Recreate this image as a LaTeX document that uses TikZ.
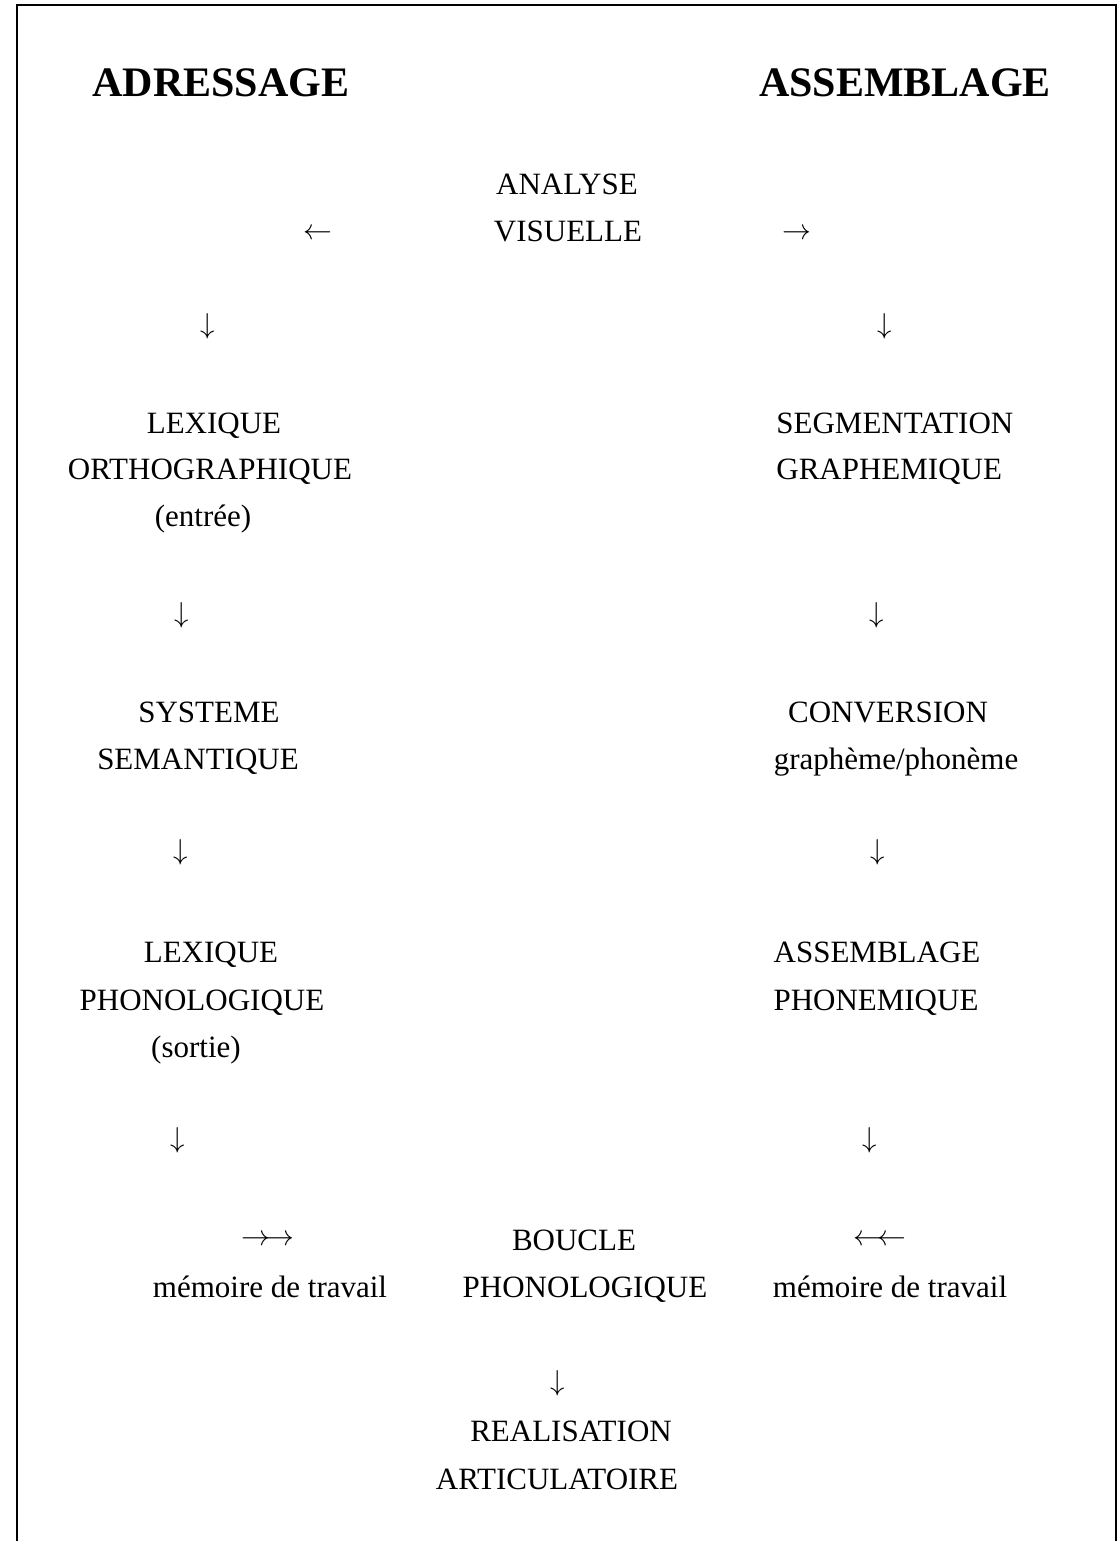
\documentclass[tikz,border=0pt]{standalone}
\usepackage{fontspec}
\setmainfont{Liberation Serif}
\begin{document}
\begin{tikzpicture}[x=0.5pt,y=-0.5pt,
  txt/.style={anchor=base, inner sep=0pt, font=\fontsize{15.5}{18}\selectfont},
  txtw/.style={anchor=base west, inner sep=0pt, font=\fontsize{15.5}{18}\selectfont},
  ttl/.style={anchor=base, inner sep=0pt, font=\fontsize{21}{24}\selectfont\bfseries},
  arw/.style={anchor=center, inner sep=0pt, font=\fontsize{15.5}{18}\selectfont},
  frame/.style={line width=0.8pt}]
\useasboundingbox (0,0) rectangle (1118,1541);
\draw[frame] (17,1541) -- (17,5) -- (1116,5) -- (1116,1541);
% titles
\node[ttl] (ttlA) at (221,97) {ADRESSAGE};
\node[ttl] (ttlB) at (905,97) {ASSEMBLAGE};
% analyse visuelle
\node[txt] (an1) at (567,194) {ANALYSE};
\node[txt] (an2) at (568,241) {VISUELLE};
\node[arw] (arL) at (318,234) {$\leftarrow$};
\node[arw] (arR) at (797,234) {$\rightarrow$};
\node[arw] (dL1) at (208,326) {$\downarrow$};
\node[arw] (dR1) at (885,326) {$\downarrow$};
% row 1
\node[txt] (lo1) at (214,433) {LEXIQUE};
\node[txt] (lo2) at (210,479) {ORTHOGRAPHIQUE};
\node[txt] (lo3) at (203,526) {(entrée)};
\node[txtw] (sg1) at (776,433) {SEGMENTATION};
\node[txtw] (sg2) at (776,479) {GRAPHEMIQUE};
\node[arw] (dL2) at (182,615) {$\downarrow$};
\node[arw] (dR2) at (877,615) {$\downarrow$};
% row 2
\node[txt] (ss1) at (209,722) {SYSTEME};
\node[txt] (ss2) at (198,769) {SEMANTIQUE};
\node[txt] (cv1) at (888,722) {CONVERSION};
\node[txt] (cv2) at (896,769) {graphème/phonème};
\node[arw] (dL3) at (181,852) {$\downarrow$};
\node[arw] (dR3) at (878,852) {$\downarrow$};
% row 3
\node[txt] (lp1) at (211,962) {LEXIQUE};
\node[txt] (lp2) at (202,1010) {PHONOLOGIQUE};
\node[txt] (lp3) at (196,1057) {(sortie)};
\node[txt] (ap1) at (877,962) {ASSEMBLAGE};
\node[txt] (ap2) at (876,1010) {PHONEMIQUE};
\node[arw] (dL4) at (178,1140) {$\downarrow$};
\node[arw] (dR4) at (870,1140) {$\downarrow$};
% row 4
\node[arw] (mwL) at (268,1240) {$\rightarrow\mkern-3mu\rightarrow$};
\node[txt] (bc1) at (574,1250) {BOUCLE};
\node[arw] (mwR) at (880,1240) {$\leftarrow\mkern-3mu\leftarrow$};
\node[txt] (mt1) at (270,1297) {mémoire de travail};
\node[txt] (bc2) at (585,1297) {PHONOLOGIQUE};
\node[txt] (mt2) at (890,1297) {mémoire de travail};
\node[arw] (dB) at (558,1383) {$\downarrow$};
% row 5
\node[txt] (ra1) at (571,1441) {REALISATION};
\node[txt] (ra2) at (557,1489) {ARTICULATOIRE};
\end{tikzpicture}
\end{document}
